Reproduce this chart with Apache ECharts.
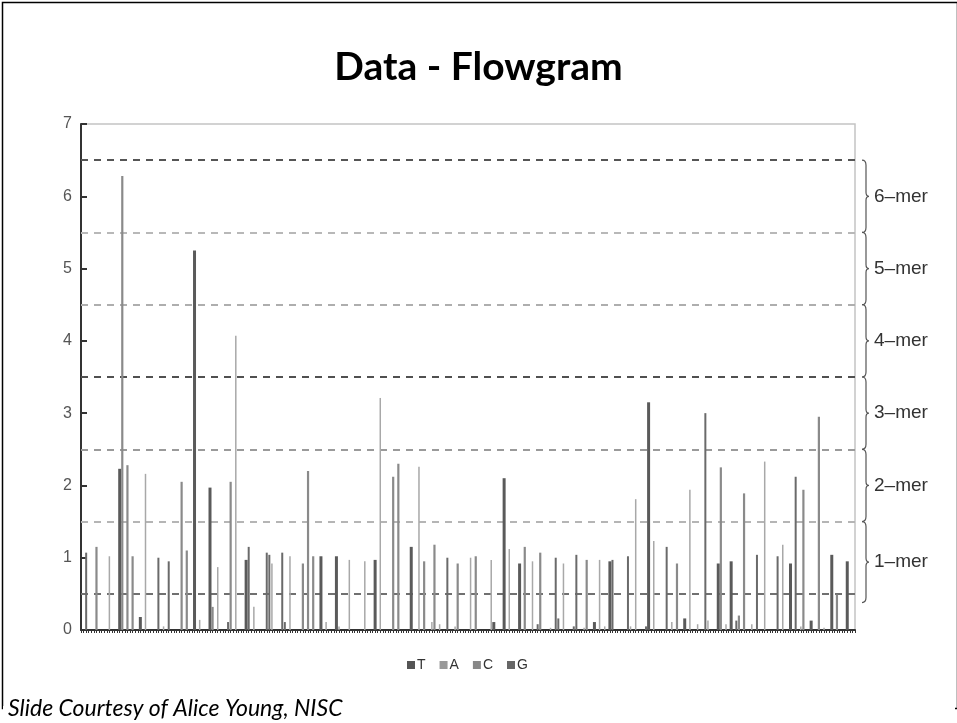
<!DOCTYPE html>
<html>
<head>
<meta charset="utf-8">
<script src="https://cdn.jsdelivr.net/npm/echarts@6/dist/echarts.min.js"></script>
<style>
html,body{margin:0;padding:0;background:#fff;}
#chart{width:957px;height:723px;}
</style>
</head>
<body>
<div id="chart"></div>
<script>
// ---- data ----
const nucleotides = ['T', 'A', 'C', 'G'];
const flowCount = 300;
const yTicks = [0, 1, 2, 3, 4, 5, 6, 7];

const tFlows  = [15, 23, 44, 50, 64, 93, 99, 114, 128, 160, 164, 170, 199, 205, 220, 234, 247, 252, 275, 283, 291, 297];
const tValues = [2.23, 0.18, 5.25, 1.97, 0.97, 1.02, 1.02, 0.97, 1.15, 0.11, 2.1, 0.92, 0.11, 0.95, 3.15, 0.16, 0.92, 0.95, 0.92, 0.13, 1.04, 0.95];

const aFlows  = [11, 25, 32, 46, 53, 60, 67, 74, 81, 95, 100, 104, 110, 116, 131, 136, 139, 145, 151, 159, 166, 175, 182, 187, 195, 201, 203, 213, 215, 222, 229, 236, 239, 243, 250, 260, 265, 272, 279, 288];
const aValues = [1.02, 2.16, 0.05, 0.14, 0.87, 4.07, 0.32, 0.92, 1.02, 0.11, 0.05, 0.97, 0.95, 3.21, 2.26, 0.11, 0.08, 0.05, 1.0, 0.97, 1.12, 0.95, 0.03, 0.92, 0.03, 0.97, 0.05, 0.05, 1.81, 1.23, 0.11, 1.94, 0.08, 0.13, 0.08, 0.08, 2.33, 1.18, 0.05, 0.03];

const cFlows  = [6, 16, 18, 20, 39, 41, 51, 58, 86, 88, 90, 121, 123, 133, 137, 146, 153, 172, 178, 196, 231, 248, 255, 257, 280, 286, 293];
const cValues = [1.15, 6.28, 2.28, 1.02, 2.05, 1.1, 0.32, 2.05, 0.92, 2.2, 1.02, 2.12, 2.3, 0.95, 1.18, 0.92, 1.02, 1.15, 1.07, 0.97, 0.92, 2.25, 0.2, 1.89, 1.94, 2.95, 0.49];

const gFlows  = [2, 30, 34, 57, 65, 72, 73, 78, 79, 142, 177, 184, 185, 191, 192, 206, 212, 219, 227, 242, 254, 262, 270, 277];
const gValues = [1.07, 1.0, 0.95, 0.11, 1.15, 1.07, 1.04, 1.07, 0.11, 1.0, 0.08, 1.0, 0.16, 0.05, 1.04, 0.97, 1.02, 0.05, 1.15, 3.0, 0.13, 1.04, 1.02, 2.12];

const guideLevels = [0.5, 1.5, 2.5, 3.5, 4.5, 5.5, 6.5];
const merLabels = ['1–mer', '2–mer', '3–mer', '4–mer', '5–mer', '6–mer'];
const braceLow  = [0.38, 1.5, 2.5, 3.5, 4.5, 5.5];
const braceHigh = [1.5, 2.5, 3.5, 4.5, 5.5, 6.5];

// ---- styling ----
const seriesColors = {T: '#5a5a5a', A: '#a8a8a8', C: '#8a8a8a', G: '#6a6a6a'};
const legendColors = {T: '#555555', A: '#999999', C: '#888888', G: '#666666'};
const seriesWidths = {T: 3, A: 1.5, C: 2.2, G: 2};
const guideColors = ['#707070', '#b5b5b5', '#9a9a9a', '#505050', '#aeaeae', '#b8b8b8', '#555555'];

const flowsBy = {T: tFlows, A: aFlows, C: cFlows, G: gFlows};
const valuesBy = {T: tValues, A: aValues, C: cValues, G: gValues};

const chart = echarts.init(document.getElementById('chart'), null, {renderer: 'canvas'});

const grid = {left: 81, right: 102, top: 124, bottom: 93, show: true, borderColor: '#c4c4c4', borderWidth: 1.5, containLabel: false};

const xAxes = nucleotides.map((n, i) => ({
  type: 'value', min: 0, max: flowCount, interval: 1,
  show: i === 0,
  axisLine: {show: true, lineStyle: {color: '#333', width: 2}},
  axisTick: {show: true, length: 3, lineStyle: {color: '#333', width: 1}},
  axisLabel: {show: false},
  splitLine: {show: false}
}));

const barSeries = nucleotides.map((n, i) => ({
  name: n,
  type: 'bar',
  xAxisIndex: i,
  barWidth: seriesWidths[n],
  itemStyle: {color: seriesColors[n]},
  data: flowsBy[n].map((f, k) => [f, valuesBy[n][k]]),
  z: 3,
  silent: true,
  markLine: i === 0 ? {
    silent: true,
    symbol: 'none',
    label: {show: false},
    data: guideLevels.map((lv, k) => ({yAxis: lv, lineStyle: {color: guideColors[k], type: [7, 6], width: 2}})),
    z: 2
  } : undefined
}));

const braceSeries = {
  type: 'custom',
  xAxisIndex: 0,
  yAxisIndex: 0,
  clip: false,
  silent: true,
  data: merLabels.map((m, k) => [braceLow[k], braceHigh[k]]),
  renderItem: function (params, api) {
    const p0 = api.coord([flowCount, api.value(0)]);
    const p1 = api.coord([flowCount, api.value(1)]);
    const x = p1[0] + 7;
    const top = p1[1], bot = p0[1], mid = (top + bot) / 2;
    const d = `M${x} ${top} Q${x + 4} ${top} ${x + 4} ${top + 5} L${x + 4} ${mid - 4} Q${x + 4} ${mid} ${x + 7} ${mid} Q${x + 4} ${mid} ${x + 4} ${mid + 4} L${x + 4} ${bot - 5} Q${x + 4} ${bot} ${x} ${bot}`;
    return {
      type: 'group',
      children: [
        {type: 'path', shape: {pathData: d}, style: {stroke: '#555', fill: null, lineWidth: 1.2}},
        {type: 'text', x: x + 12, y: mid, style: {text: merLabels[params.dataIndex], fill: '#333', font: '19px "Liberation Sans", Arial, sans-serif', verticalAlign: 'middle', align: 'left'}}
      ]
    };
  }
};

const option = {
  animation: false,
  backgroundColor: '#ffffff',
  title: {
    text: 'Data - Flowgram',
    left: 'center',
    top: 43,
    textStyle: {fontFamily: 'Lato', fontWeight: 'bold', fontSize: 39, color: '#000'}
  },
  legend: {
    data: nucleotides.map(n => ({name: n, itemStyle: {color: legendColors[n]}})),
    left: 402,
    top: 653,
    icon: 'rect',
    itemWidth: 8,
    itemHeight: 8,
    itemGap: 14,
    textStyle: {fontSize: 14, color: '#333', fontFamily: '"Liberation Sans", Arial, sans-serif', padding: [0, 0, 0, -3]}
  },
  grid: grid,
  xAxis: xAxes,
  yAxis: {
    type: 'value', min: 0, max: 7, interval: 1,
    axisLine: {show: true, lineStyle: {color: '#333', width: 2}},
    axisTick: {show: true, inside: true, length: 6, lineStyle: {color: '#333', width: 2}},
    axisLabel: {color: '#555', fontSize: 16, fontFamily: '"Liberation Sans", Arial, sans-serif', margin: 9,
      formatter: v => (yTicks.indexOf(v) >= 0 ? String(v) : '')},
    splitLine: {show: false}
  },
  graphic: [
    {type: 'rect', left: 0, top: 0, shape: {width: 955, height: 706}, style: {fill: null, stroke: '#000', lineWidth: 1.5}, z: 0, silent: true},
    {type: 'rect', left: 3, top: 706, shape: {width: 952, height: 20}, style: {fill: '#fff'}, z: 1, silent: true},
    {type: 'text', left: 8, top: 697, style: {text: 'Slide Courtesy of Alice Young, NISC', font: 'italic 23px Lato, "Open Sans", sans-serif', fill: '#000'}, z: 5, silent: true}
  ],
  series: [...barSeries, braceSeries]
};
chart.setOption(option);
</script>
</body>
</html>
